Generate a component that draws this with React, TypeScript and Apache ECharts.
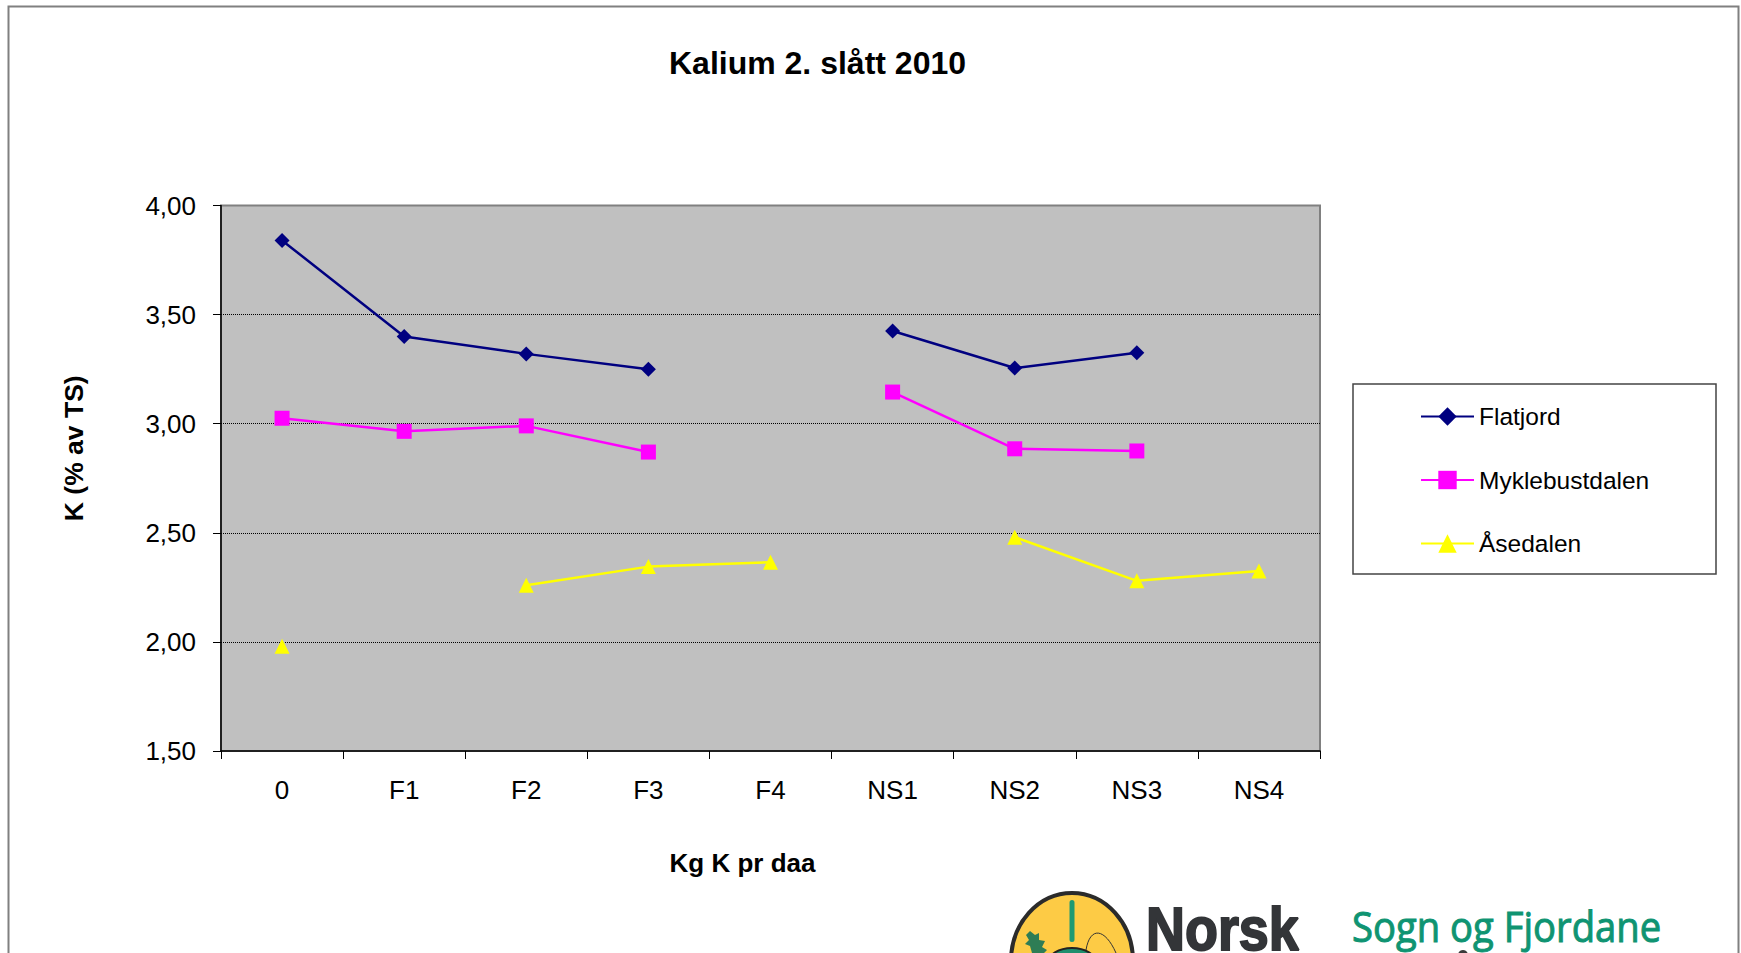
import React, { useEffect, useRef } from "react";
import * as echarts from "echarts";

const categories = ["0", "F1", "F2", "F3", "F4", "NS1", "NS2", "NS3", "NS4"];
const flatjord = [3.84, 3.4, 3.32, 3.25, null, 3.425, 3.255, 3.325, null];
const myklebustdalen = [3.025, 2.965, 2.99, 2.87, null, 3.145, 2.885, 2.875, null];
const asedalen = [1.98, null, 2.26, 2.345, 2.365, null, 2.48, 2.28, 2.325];
const FONT = '"Liberation Sans", Arial, sans-serif';

export default function App() {
  const ref = useRef<HTMLDivElement>(null);
  useEffect(() => {
    document.body.style.margin = "0";
    const chart = echarts.init(ref.current!, undefined, { renderer: "svg" });
    const mk = (name: string, data: any[], color: string, symbol: string, size: number) => ({
      name, type: "line", data, symbol, symbolSize: size, connectNulls: false,
      showSymbol: true, showAllSymbols: true,
      lineStyle: { color, width: 2.5 }, itemStyle: { color }, z: 3,
    });
    chart.setOption({
      animation: false,
      backgroundColor: "#fff",
      title: {
        text: "Kalium 2. slått 2010", left: 812.5, top: 42, textAlign: "center",
        textStyle: { fontFamily: FONT, fontSize: 32, fontWeight: "bold", color: "#000" },
      },
      grid: { left: 221, top: 205.5, width: 1099, height: 545.5, containLabel: false, show: true, backgroundColor: "#c0c0c0", borderWidth: 2, borderColor: "#808080" },
      xAxis: {
        type: "category", data: categories, boundaryGap: true,
        name: "Kg K pr daa", nameLocation: "middle", nameGap: 99,
        nameTextStyle: { fontFamily: FONT, fontSize: 26, fontWeight: "bold", color: "#000", padding: [0, 56, 0, 0] },
        axisLine: { lineStyle: { color: "#000", width: 1.5 } },
        axisTick: { show: true, alignWithLabel: false, length: 8, lineStyle: { color: "#000", width: 1 } },
        axisLabel: { fontFamily: FONT, fontSize: 26, color: "#000", margin: 26 },
        splitLine: { show: false },
      },
      yAxis: {
        type: "value", min: 1.5, max: 4, interval: 0.5,
        name: "K (% av TS)", nameLocation: "middle", nameGap: 134, nameRotate: 90,
        nameTextStyle: { fontFamily: FONT, fontSize: 26.5, fontWeight: "bold", color: "#000", padding: [0, 0, 0, 60] },
        axisLine: { show: true, lineStyle: { color: "#000", width: 1.5 } },
        axisTick: { show: true, length: 8, lineStyle: { color: "#000", width: 1 } },
        axisLabel: { fontFamily: FONT, fontSize: 26, color: "#000", margin: 25, formatter: (v: number) => v.toFixed(2).replace(".", ",") },
        splitLine: { show: true, showMinLine: false, showMaxLine: false, lineStyle: { color: "#000", width: 1, type: [1, 1] } },
      },
      legend: {
        orient: "vertical", left: 1420, top: 404, itemWidth: 53, itemHeight: 23, itemGap: 38.5, padding: 0,
        data: ["Flatjord", "Myklebustdalen", "Åsedalen"],
        textStyle: { fontFamily: FONT, fontSize: 24.5, color: "#000" },
      },
      series: [
        mk("Flatjord", flatjord, "#000080", "diamond", 15),
        mk("Myklebustdalen", myklebustdalen, "#ff00ff", "rect", 15),
        mk("Åsedalen", asedalen, "#ffff00", "triangle", 15),
      ],
      graphic: [
        { type: "rect", z: -10, shape: { x: 8.5, y: 6.5, width: 1730, height: 960 }, style: { fill: "none", stroke: "#808080", lineWidth: 2 }, silent: true },
        { type: "rect", z: 1, shape: { x: 1353, y: 384, width: 363, height: 190 }, style: { fill: "#fff", stroke: "#444", lineWidth: 1.5 }, silent: true },
        { type: "ellipse", z: 2, shape: { cx: 1072, cy: 961, rx: 61, ry: 68 }, style: { fill: "#fdcb45", stroke: "#2b2b2b", lineWidth: 4 }, silent: true },
        { type: "rect", z: 3, shape: { x: 1069.5, y: 900, width: 5, height: 42, r: 2.5 }, style: { fill: "#1f9a72" }, silent: true },
        { type: "ellipse", z: 3, shape: { cx: 1072, cy: 963, rx: 24, ry: 15 }, style: { fill: "#1f8f6e", stroke: "#222", lineWidth: 2 }, silent: true },
        { type: "polygon", z: 3, shape: { points: [[1030, 931], [1035, 935], [1039, 933], [1039, 940], [1045, 941], [1042, 947], [1047, 950], [1044, 953], [1032, 953], [1030, 946], [1025, 944], [1029, 940], [1026, 935]] }, style: { fill: "#2e7d55" }, silent: true },
        { type: "bezierCurve", z: 3, shape: { x1: 1086, y1: 950, cpx1: 1090, cpy1: 926, cpx2: 1105, cpy2: 928, x2: 1116, y2: 953 }, style: { fill: "none", stroke: "#333", lineWidth: 1 }, silent: true },
        { type: "text", z: 3, x: 1146, y: 897, scaleX: 0.87, style: { x: 0, y: 0, text: "Norsk", font: `bold 62px ${FONT}`, fill: "#333538", stroke: "#333538", lineWidth: 2 }, silent: true },
        { type: "text", z: 3, x: 1352, y: 905, scaleX: 0.91, style: { x: 0, y: 0, text: "Sogn og Fjordane", font: `42px "Open Sans", ${FONT}`, fill: "#0f9472", stroke: "#0f9472", lineWidth: 1 }, silent: true },
        { type: "ellipse", z: 3, shape: { cx: 1463, cy: 955, rx: 5, ry: 5 }, style: { fill: "#3a3a3a" }, silent: true },
      ],
    });
    return () => chart.dispose();
  }, []);
  return <div ref={ref} style={{ width: 1741, height: 953 }} />;
}
